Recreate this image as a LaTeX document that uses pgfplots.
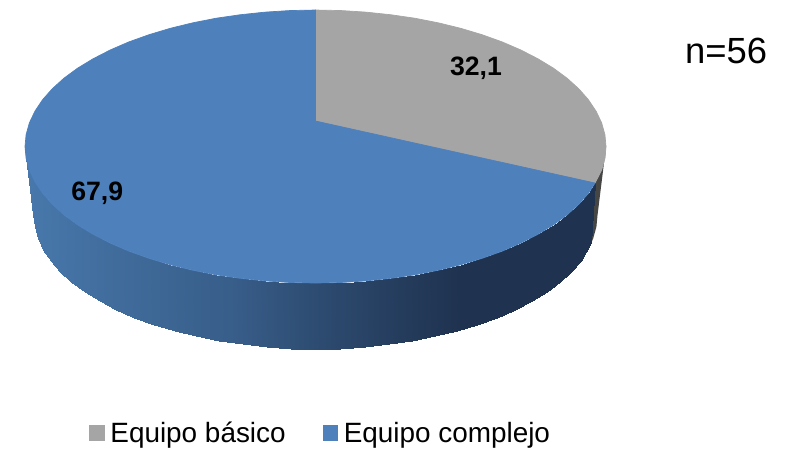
\documentclass[border=0pt]{standalone}
\usepackage{fontspec}
\setmainfont{Liberation Sans}
\usepackage{pgfplots}
\pgfplotsset{compat=1.18}
\definecolor{pieblue}{RGB}{78,128,188}
\definecolor{piegrey}{RGB}{165,165,165}
\definecolor{sidegrey}{RGB}{70,70,68}
\begin{document}
\begin{tikzpicture}
\path[use as bounding box] (0,0) rectangle (794pt,450pt);
\begin{axis}[
  at={(0,0)}, anchor=south west,
  width=794pt, height=450pt, scale only axis,
  xmin=0, xmax=794, ymin=0, ymax=450, zmin=-1, zmax=1,
  y dir=reverse, view={0}{90}, hide axis, clip=false,
  colormap={side}{rgb255(25pt)=(72,120,172); rgb255(130pt)=(63,106,153); rgb255(230pt)=(56,94,138); rgb255(320pt)=(45,75,112); rgb255(420pt)=(35,57,88); rgb255(460pt)=(31,51,80); rgb255(606pt)=(31,51,80)},
  point meta min=25, point meta max=606,
  legend style={at={(axis cs:89.3,433)}, anchor=west, draw=none, fill=none, legend columns=2, inner sep=0pt, outer sep=0pt,
    font=\fontsize{27.9}{30}\selectfont, /tikz/every even column/.append style={column sep=35pt}},
  legend cell align=left,
  legend image code/.code={\fill[#1] (0pt,-7.4pt) rectangle (14.7pt,7.4pt); \path (18.4pt,0pt);},
]
% dark grey side of the grey slice
\addplot[fill=sidegrey, draw=none, forget plot] coordinates {
 (606,146.5) (604.9,158.4) (601.6,170.2) (595,183) (591.3,242.9) (593.2,238.3) (596.4,226.7) (597.5,215)} --cycle;
% shaded side of the blue slice
\addplot3[surf, shader=interp, mesh/rows=2, point meta=x, forget plot] coordinates {
 (595,183,0) (588.5,193.2,0) (578.8,204.2,0) (567.1,214.8,0) (553.5,224.8,0) (538.0,234.2,0) (520.9,243.0,0) (502.2,251.1,0) (482.1,258.3,0) (460.8,264.7,0) (438.3,270.2,0) (414.9,274.8,0) (390.7,278.3,0) (365.9,280.9,0) (340.8,282.5,0) (315.5,283,0) (290.2,282.5,0) (265.1,280.9,0) (240.3,278.3,0) (216.1,274.8,0) (192.7,270.2,0) (170.2,264.7,0) (148.9,258.3,0) (128.8,251.1,0) (110.1,243.0,0) (93.0,234.2,0) (77.5,224.8,0) (63.9,214.8,0) (52.2,204.2,0) (42.5,193.2,0) (34.9,181.8,0) (29.4,170.2,0) (26.1,158.4,0) (25,146.5,0)

 (591.3,242.9,0) (580.5,260.8,0) (571.1,271.6,0) (559.7,282,0) (546.5,291.9,0) (531.5,301.1,0) (514.9,309.8,0) (496.8,317.6,0) (477.3,324.8,0) (456.5,331.0,0) (434.7,336.4,0) (411.9,340.9,0) (388.5,344.4,0) (364.5,347.0,0) (340.1,348.5,0) (315.5,349,0) (290.9,348.5,0) (266.5,347.0,0) (242.5,344.4,0) (219.1,340.9,0) (196.3,336.4,0) (174.5,331.0,0) (153.7,324.8,0) (134.2,317.6,0) (116.1,309.8,0) (99.5,301.1,0) (84.5,291.9,0) (71.3,282,0) (59.9,271.6,0) (50.5,260.8,0) (43.1,249.7,0) (37.8,238.3,0) (34.6,226.7,0) (33.5,215,0)
};
% top surface: grey slice, 32.1
\addplot[fill=piegrey, draw=piegrey, line width=0.7pt] coordinates {
 (315.5,121) (315.5,10) (340.8,10.5) (365.9,12.1) (390.7,14.7) (414.9,18.2) (438.3,22.8) (460.8,28.3) (482.1,34.7) (502.2,41.9) (520.9,50) (538,58.8) (553.5,68.2) (567.1,78.2) (578.8,88.8) (588.5,99.8) (596.1,111.2) (601.6,122.8) (604.9,134.6) (606,146.5) (604.9,158.4) (601.6,170.2) (595,183)} --cycle;
\addlegendentry{Equipo básico}
% top surface: blue slice, 67.9
\addplot[fill=pieblue, draw=pieblue, line width=0.7pt] coordinates {
 (315.5,121) (595,183) (588.5,193.2) (578.8,204.2) (567.1,214.8) (553.5,224.8) (538.0,234.2) (520.9,243.0) (502.2,251.1) (482.1,258.3) (460.8,264.7) (438.3,270.2) (414.9,274.8) (390.7,278.3) (365.9,280.9) (340.8,282.5) (315.5,283) (290.2,282.5) (265.1,280.9) (240.3,278.3) (216.1,274.8) (192.7,270.2) (170.2,264.7) (148.9,258.3) (128.8,251.1) (110.1,243.0) (93.0,234.2) (77.5,224.8) (63.9,214.8) (52.2,204.2) (42.5,193.2) (34.9,181.8) (29.4,170.2) (26.1,158.4) (25,146.5) (26.1,134.6) (29.4,122.8) (34.9,111.2) (42.5,99.8) (52.2,88.8) (63.9,78.2) (77.5,68.2) (93,58.8) (110.1,50) (128.8,41.9) (148.9,34.7) (170.2,28.3) (192.7,22.8) (216.1,18.2) (240.3,14.7) (265.1,12.1) (290.2,10.5) (315.5,10)} --cycle;
\addlegendentry{Equipo complejo}
\node[font=\bfseries\fontsize{26.6}{28}\selectfont, inner sep=0pt] at (axis cs:476,68.5) {32,1};
\node[font=\bfseries\fontsize{26.6}{28}\selectfont, inner sep=0pt] at (axis cs:97.3,193) {67,9};
\node[font=\fontsize{36.4}{40}\selectfont, inner sep=0pt, anchor=base] at (axis cs:726,63) {n=56};
\end{axis}
\end{tikzpicture}
\end{document}
